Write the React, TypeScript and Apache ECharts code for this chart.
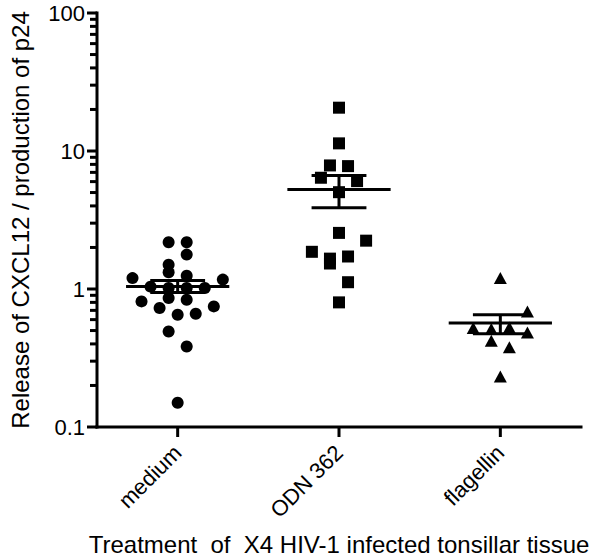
import React, { useEffect, useRef } from "react";
import * as echarts from "echarts";

const categories = ["medium", "ODN 362", "flagellin"];

// values, with their horizontal jitter slot (in marker steps)
const mediumValues = [2.18, 2.18, 1.775, 1.5, 1.32, 1.2, 1.25, 1.17, 1.04, 1.017, 1.017, 1.017, 0.86, 0.836, 0.813, 0.728, 0.748, 0.651, 0.662, 0.492, 0.383, 0.15];
const mediumSlots = [-1, 1, 1, -1, -1, -5, 1, 5, -3, -1, 1, 3, -1, 1, -4, -2, 4, 0, 2, -1, 1, 0];

const odnValues = [20.6, 11.36, 7.86, 7.77, 6.4, 6.05, 5.03, 2.55, 2.24, 1.86, 1.66, 1.53, 1.72, 1.12, 0.8];
const odnSlots = [0, 0, -1, 1, -2, 2, 0, 0, 3, -3, -1, -1, 1, 1, 0];

const flagellinValues = [1.2, 0.687, 0.521, 0.512, 0.526, 0.484, 0.421, 0.379, 0.232];
const flagellinSlots = [0, 3, -3, -1, 1, 3, -1, 1, 0];

const groupMeans = [1.044, 5.26, 0.566];
const groupUpper = [1.15, 6.65, 0.651];
const groupLower = [0.945, 3.88, 0.473];

const yMin = 0.1;
const yMax = 100;
const yTickValues = [0.1, 1, 10, 100];
const minorTickValues = [0.2, 0.3, 0.4, 0.5, 0.6, 0.7, 0.8, 0.9, 2, 3, 4, 5, 6, 7, 8, 9, 20, 30, 40, 50, 60, 70, 80, 90];

const yTitle = "Release of CXCL12 / production of p24";
const xTitle = "Treatment  of  X4 HIV-1 infected tonsillar tissue";

const STEP = 0.056;
const FONT = "'Liberation Sans', Arial, sans-serif";

function pts(vals: number[], slots: number[], gi: number) {
  return vals.map((v, i) => [gi + slots[i] * STEP, v]);
}

export default function App() {
  const ref = useRef<HTMLDivElement>(null);
  useEffect(() => {
    if (!ref.current) return;
    const chart = echarts.init(ref.current, null, { renderer: "svg" });
    const markerCommon = {
      type: "scatter" as const,
      xAxisIndex: 1,
      symbolSize: 12,
      itemStyle: { color: "#000", opacity: 1 },
      silent: true,
      z: 5,
    };
    const axisStyle = { stroke: "#000", lineWidth: 3, lineCap: "square" };
    const tickStyle = { stroke: "#000", lineWidth: 3 };
    chart.setOption({
      animation: false,
      backgroundColor: "#fff",
      grid: { left: 97, right: 16, top: 13, bottom: 132, containLabel: false, outerBoundsMode: "none" },
      xAxis: [
        {
          type: "category",
          data: categories,
          boundaryGap: true,
          name: xTitle,
          nameLocation: "middle",
          nameGap: 117,
          nameMoveOverlap: false,
          nameTextStyle: { fontSize: 24, color: "#000", fontFamily: FONT, verticalAlign: "middle" },
          axisLine: { show: false },
          axisTick: { show: false },
          axisLabel: {
            rotate: 45,
            fontSize: 22,
            color: "#000",
            fontFamily: FONT,
            margin: 22,
          },
          splitLine: { show: false },
        },
        {
          type: "value",
          min: -0.5,
          max: 2.5,
          show: false,
          splitLine: { show: false },
        },
      ],
      yAxis: {
        type: "log",
        logBase: 10,
        min: yMin,
        max: yMax,
        name: yTitle,
        nameLocation: "middle",
        nameGap: 77,
        nameRotate: 90,
        nameMoveOverlap: false,
        nameTextStyle: { fontSize: 24, color: "#000", fontFamily: FONT, verticalAlign: "middle" },
        axisLine: { show: false },
        axisTick: { show: false },
        axisLabel: {
          fontSize: 22,
          color: "#000",
          fontFamily: FONT,
          margin: 12,
          formatter: (v: number) => {
            const m = yTickValues.find((t) => Math.abs(t - v) / t < 1e-6);
            return m === undefined ? "" : String(m);
          },
        },
        splitLine: { show: false },
      },
      series: [
        { ...markerCommon, symbol: "circle", data: pts(mediumValues, mediumSlots, 0) },
        { ...markerCommon, symbol: "rect", symbolSize: 12, data: pts(odnValues, odnSlots, 1) },
        { ...markerCommon, symbol: "triangle", symbolSize: [13, 12], data: pts(flagellinValues, flagellinSlots, 2) },
        {
          type: "custom",
          xAxisIndex: 1,
          silent: true,
          z: 6,
          clip: false,
          data: groupMeans.map((m, i) => [i, m, groupLower[i], groupUpper[i]]),
          renderItem: (params: any, api: any) => {
            const i = api.value(0);
            const m = api.value(1);
            const lo = api.value(2);
            const hi = api.value(3);
            const a = api.coord([i - 0.32, m]);
            const b = api.coord([i + 0.32, m]);
            const c1 = api.coord([i - 0.17, hi]);
            const c2 = api.coord([i + 0.17, hi]);
            const d1 = api.coord([i - 0.17, lo]);
            const d2 = api.coord([i + 0.17, lo]);
            const v1 = api.coord([i, hi]);
            const v2 = api.coord([i, lo]);
            const st = { stroke: "#000", lineWidth: 3 };
            return {
              type: "group",
              children: [
                { type: "line", shape: { x1: a[0], y1: a[1], x2: b[0], y2: b[1] }, style: st },
                { type: "line", shape: { x1: c1[0], y1: c1[1], x2: c2[0], y2: c2[1] }, style: st },
                { type: "line", shape: { x1: d1[0], y1: d1[1], x2: d2[0], y2: d2[1] }, style: st },
                { type: "line", shape: { x1: v1[0], y1: v1[1], x2: v2[0], y2: v2[1] }, style: st },
              ],
            };
          },
        },
        {
          // axis frame: axis lines, major and minor ticks, placed through the axes' scales
          type: "custom",
          xAxisIndex: 1,
          silent: true,
          z: 4,
          clip: false,
          data: [[0]],
          renderItem: (params: any, api: any) => {
            const origin = api.coord([-0.5, yMin]);
            const top = api.coord([-0.5, yMax]);
            const right = api.coord([2.5, yMin]);
            const children: any[] = [
              { type: "line", shape: { x1: origin[0], y1: origin[1], x2: top[0], y2: top[1] }, style: axisStyle },
              { type: "line", shape: { x1: origin[0], y1: origin[1], x2: right[0], y2: right[1] }, style: axisStyle },
            ];
            yTickValues.forEach((v) => {
              const p = api.coord([-0.5, v]);
              children.push({ type: "line", shape: { x1: p[0] - 10, y1: p[1], x2: p[0], y2: p[1] }, style: tickStyle });
            });
            minorTickValues.forEach((v) => {
              const p = api.coord([-0.5, v]);
              children.push({ type: "line", shape: { x1: p[0] - 7, y1: p[1], x2: p[0], y2: p[1] }, style: tickStyle });
            });
            categories.forEach((c, i) => {
              const p = api.coord([i, yMin]);
              children.push({ type: "line", shape: { x1: p[0], y1: p[1], x2: p[0], y2: p[1] + 10 }, style: tickStyle });
            });
            return { type: "group", children };
          },
        },
      ],
    });
    return () => chart.dispose();
  }, []);
  return <div ref={ref} style={{ position: "absolute", left: 0, top: 0, width: 597, height: 559 }} />;
}
